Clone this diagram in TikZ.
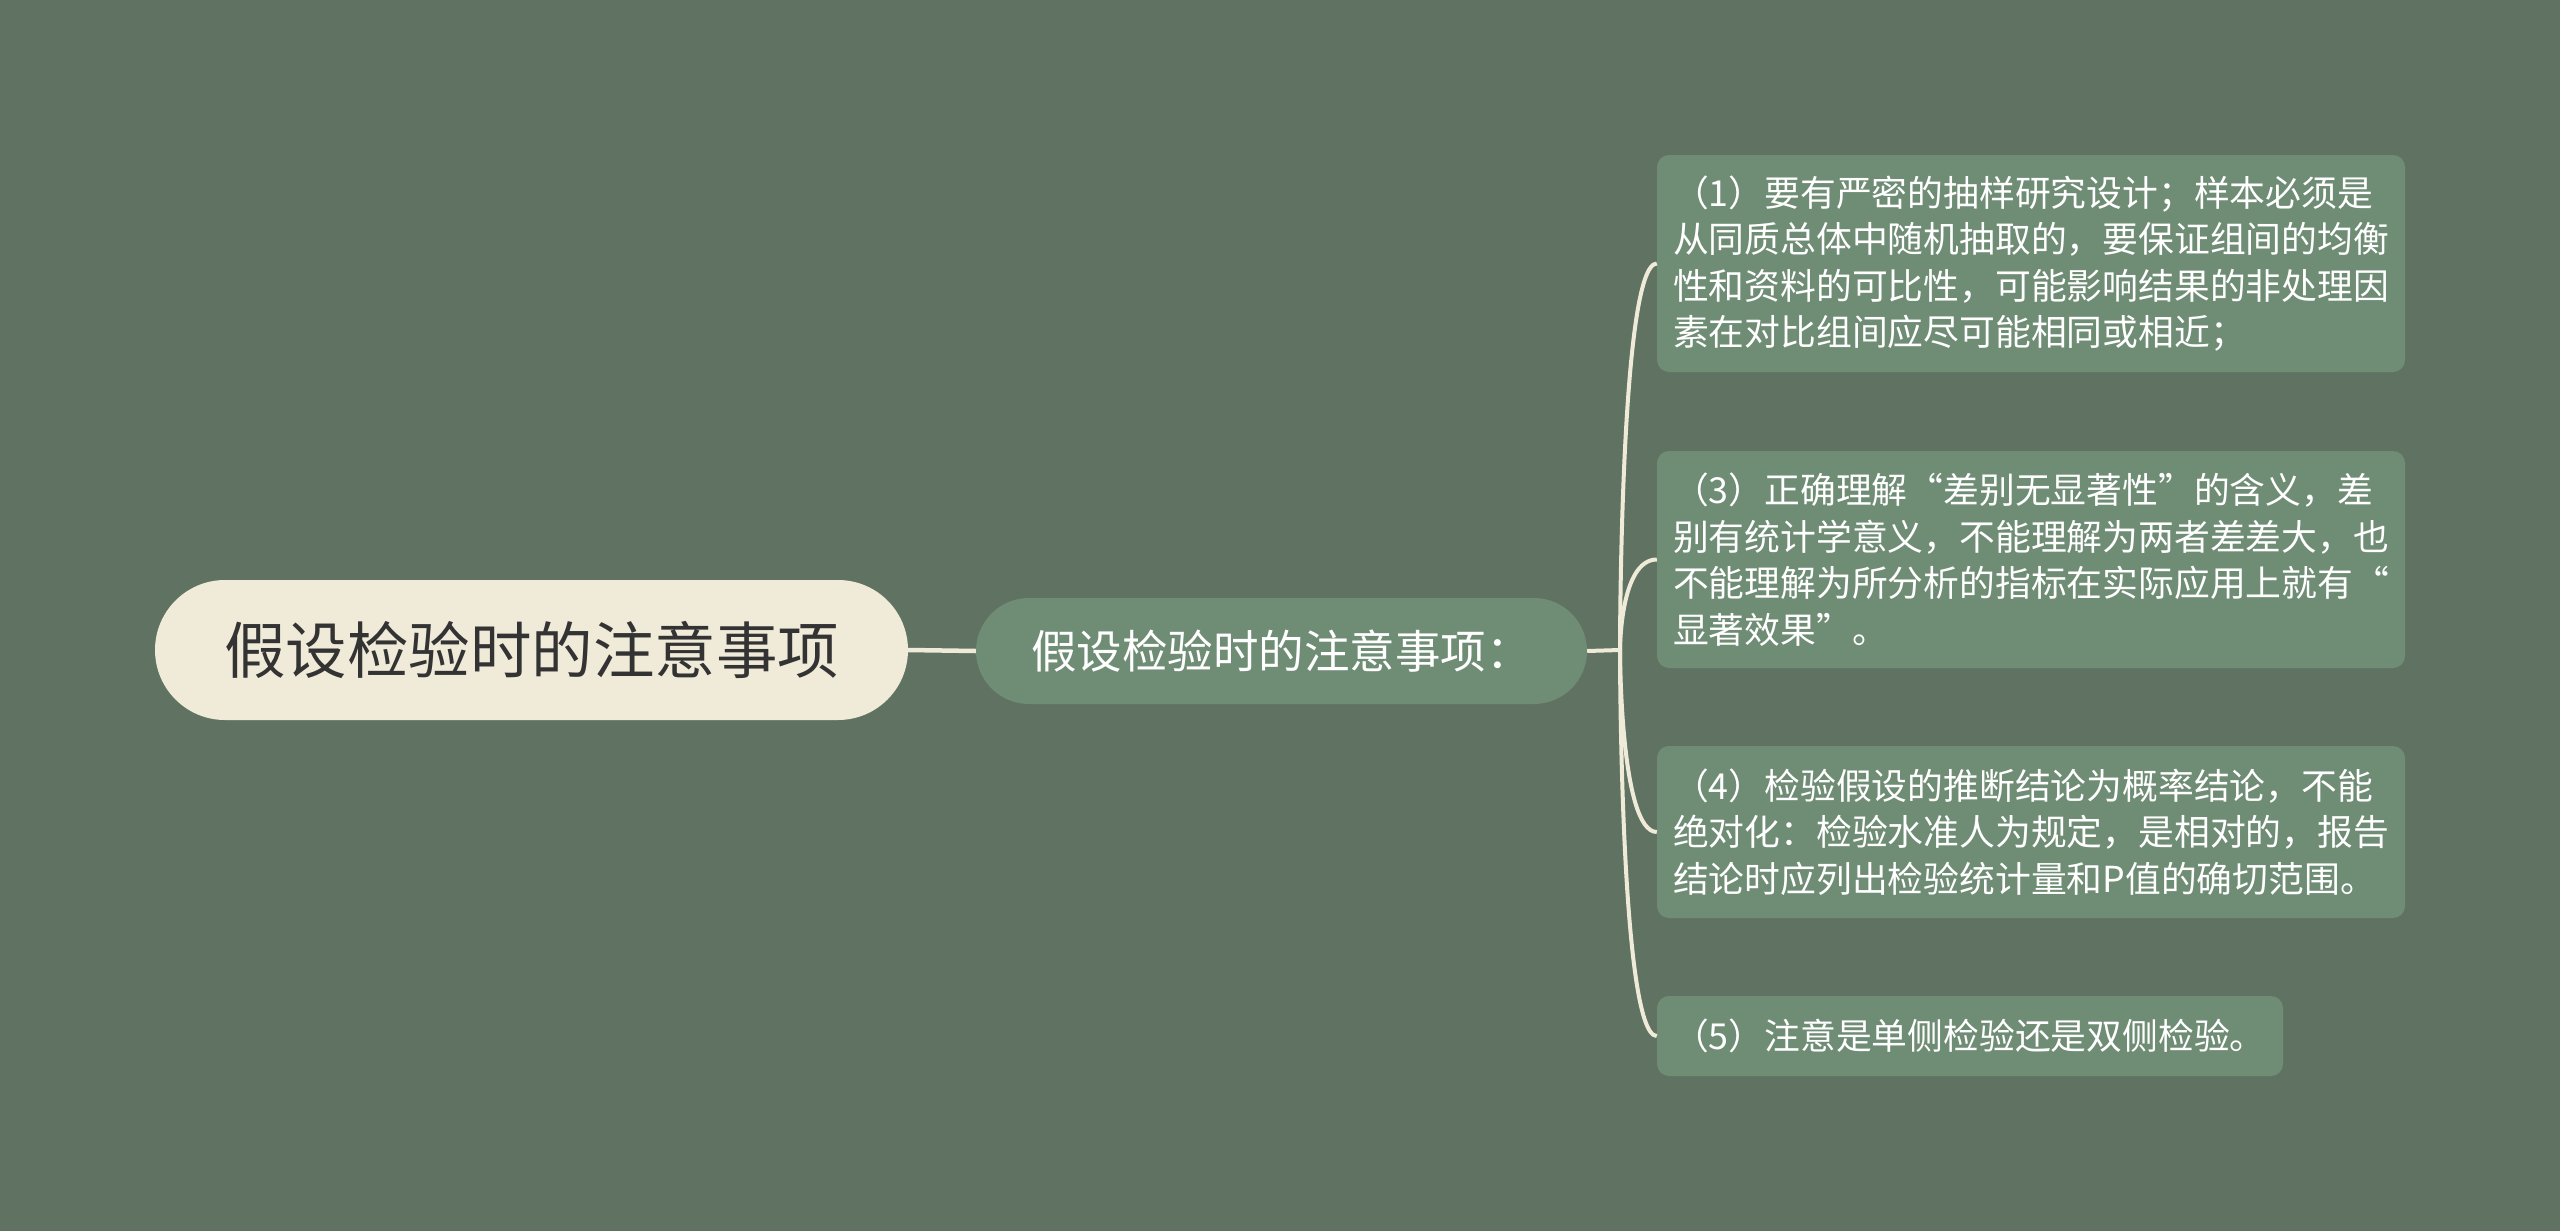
\documentclass[tikz,border=0pt]{standalone}
\usepackage{fontspec}
\setmainfont{Noto Sans CJK SC}
\definecolor{bgc}{HTML}{607363}
\definecolor{boxc}{HTML}{6F8C75}
\definecolor{creamc}{HTML}{F0EBD9}
\definecolor{darkt}{HTML}{333333}
\tikzset{
  conn/.style={draw=creamc, line width=4pt},
  rootn/.style={fill=creamc, text=darkt, rounded corners=70pt, inner sep=0pt,
    font=\fontsize{61.5}{70}\selectfont},
  midn/.style={fill=boxc, text=white, rounded corners=53pt, inner sep=0pt,
    font=\fontsize{45.5}{52}\selectfont},
  leafn/.style={fill=boxc, text=white, rounded corners=12pt, inner sep=0pt,
    align=left, font=\fontsize{35.8}{46.5}\selectfont}
}
\begin{document}
\begin{tikzpicture}[x=1pt,y=-1pt]
\fill[bgc] (0,0) rectangle (2560,1231);
\useasboundingbox (0,0) rectangle (2560,1231);

\node[rootn, minimum width=753pt, minimum height=140pt] (root) at (531.5,650) {假设检验时的注意事项};
\node[midn, minimum width=611pt, minimum height=106pt] (mid) at (1281.5,651) {假设检验时的注意事项：};

\node[leafn, minimum width=748pt, minimum height=217pt] (b1) at (2031,263.5) {%
\parbox{716pt}{\raggedright（1）要有严密的抽样研究设计；样本必须是\\从同质总体中随机抽取的，要保证组间的均衡\\性和资料的可比性，可能影响结果的非处理因\\素在对比组间应尽可能相同或相近；}};
\node[leafn, minimum width=748pt, minimum height=217pt] (b3) at (2031,559.5) {%
\parbox{716pt}{\raggedright（3）正确理解“差别无显著性”的含义，差\\别有统计学意义，不能理解为两者差差大，也\\不能理解为所分析的指标在实际应用上就有“\\显著效果”。}};
\node[leafn, minimum width=748pt, minimum height=172pt] (b4) at (2031,832) {%
\parbox{716pt}{\raggedright（4）检验假设的推断结论为概率结论，不能\\绝对化：检验水准人为规定，是相对的，报告\\结论时应列出检验统计量和P值的确切范围。}};
\node[leafn, minimum width=626pt, minimum height=80pt] (b5) at (1970,1036) {%
\parbox{594pt}{\raggedright（5）注意是单侧检验还是双侧检验。}};

\coordinate (br) at (1620,650);
\draw[conn, line width=4.5pt] (root.east) -- (mid.west);
\draw[conn] (mid.east) -- (br);
\draw[conn] (br) .. controls (br) and (br |- b1.west) .. (b1.west);
\draw[conn] (br) .. controls (br) and (br |- b3.west) .. (b3.west);
\draw[conn] (br) .. controls (br) and (br |- b4.west) .. (b4.west);
\draw[conn] (br) .. controls (br) and (br |- b5.west) .. (b5.west);
\end{tikzpicture}
\end{document}
